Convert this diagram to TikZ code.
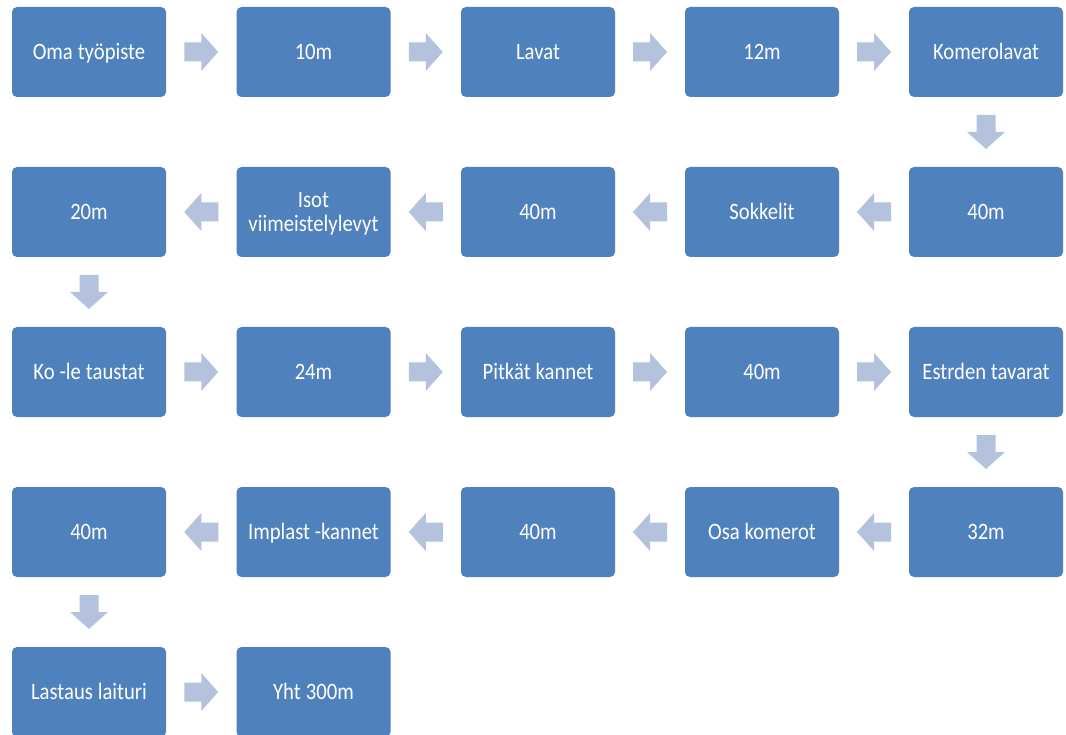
\documentclass[tikz,border=0pt]{standalone}
\usepackage{fontspec}
\setmainfont{Carlito}[FakeStretch=0.88]
\usetikzlibrary{calc}
\definecolor{boxblue}{RGB}{79,129,189}
\definecolor{arrowblue}{RGB}{180,194,222}
\begin{document}
\begin{tikzpicture}[x=1pt,y=-1pt,
  stepbox/.style={fill=boxblue, rounded corners=5pt, minimum width=154pt, minimum height=90pt,
    inner sep=0pt, text=white, align=center, text width=150pt,
    text height=15pt, text depth=0pt,
    font=\fontsize{23.5}{23.5}\selectfont,
    execute at begin node={\spaceskip=4.5pt plus 1pt minus 1pt\relax}},
  barrow/.pic={\fill[arrowblue] (-17,-9.5) -- (0,-9.5) -- (0,-19) -- (17,0) -- (0,19) -- (0,9.5) -- (-17,9.5) -- cycle;}]
\useasboundingbox (0,0) rectangle (1066,735);
\clip (0,0) rectangle (1066,735);
% row 1
\node[stepbox] (a1) at (89,52) {Oma työpiste};
\node[stepbox] (a2) at (313.5,52) {10m};
\node[stepbox] (a3) at (538,52) {Lavat};
\node[stepbox] (a4) at (762,52) {12m};
\node[stepbox] (a5) at (986,52) {Komerolavat};
% row 2
\node[stepbox] (b5) at (986,212) {40m};
\node[stepbox] (b4) at (762,212) {Sokkelit};
\node[stepbox] (b3) at (538,212) {40m};
\node[stepbox, text depth=23.5pt] (b2) at (313.5,212) {Isot\\viimeistelylevyt};
\node[stepbox] (b1) at (89,212) {20m};
% row 3
\node[stepbox] (c1) at (89,372) {Ko -le taustat};
\node[stepbox] (c2) at (313.5,372) {24m};
\node[stepbox] (c3) at (538,372) {Pitkät kannet};
\node[stepbox] (c4) at (762,372) {40m};
\node[stepbox] (c5) at (986,372) {Estrden tavarat};
% row 4
\node[stepbox] (d5) at (986,532) {32m};
\node[stepbox] (d4) at (762,532) {Osa komerot};
\node[stepbox] (d3) at (538,532) {40m};
\node[stepbox] (d2) at (313.5,532) {Implast -kannet};
\node[stepbox] (d1) at (89,532) {40m};
% row 5
\node[stepbox] (e1) at (89,692) {Lastaus laituri};
\node[stepbox] (e2) at (313.5,692) {Yht 300m};
% arrows
\pic at ($(a1)!0.5!(a2)$) {barrow};
\pic at ($(a2)!0.5!(a3)$) {barrow};
\pic at ($(a3)!0.5!(a4)$) {barrow};
\pic at ($(a4)!0.5!(a5)$) {barrow};
\pic[rotate=-90] at ($(a5)!0.5!(b5)$) {barrow};
\pic[rotate=180] at ($(b5)!0.5!(b4)$) {barrow};
\pic[rotate=180] at ($(b4)!0.5!(b3)$) {barrow};
\pic[rotate=180] at ($(b3)!0.5!(b2)$) {barrow};
\pic[rotate=180] at ($(b2)!0.5!(b1)$) {barrow};
\pic[rotate=-90] at ($(b1)!0.5!(c1)$) {barrow};
\pic at ($(c1)!0.5!(c2)$) {barrow};
\pic at ($(c2)!0.5!(c3)$) {barrow};
\pic at ($(c3)!0.5!(c4)$) {barrow};
\pic at ($(c4)!0.5!(c5)$) {barrow};
\pic[rotate=-90] at ($(c5)!0.5!(d5)$) {barrow};
\pic[rotate=180] at ($(d5)!0.5!(d4)$) {barrow};
\pic[rotate=180] at ($(d4)!0.5!(d3)$) {barrow};
\pic[rotate=180] at ($(d3)!0.5!(d2)$) {barrow};
\pic[rotate=180] at ($(d2)!0.5!(d1)$) {barrow};
\pic[rotate=-90] at ($(d1)!0.5!(e1)$) {barrow};
\pic at ($(e1)!0.5!(e2)$) {barrow};
\end{tikzpicture}
\end{document}
